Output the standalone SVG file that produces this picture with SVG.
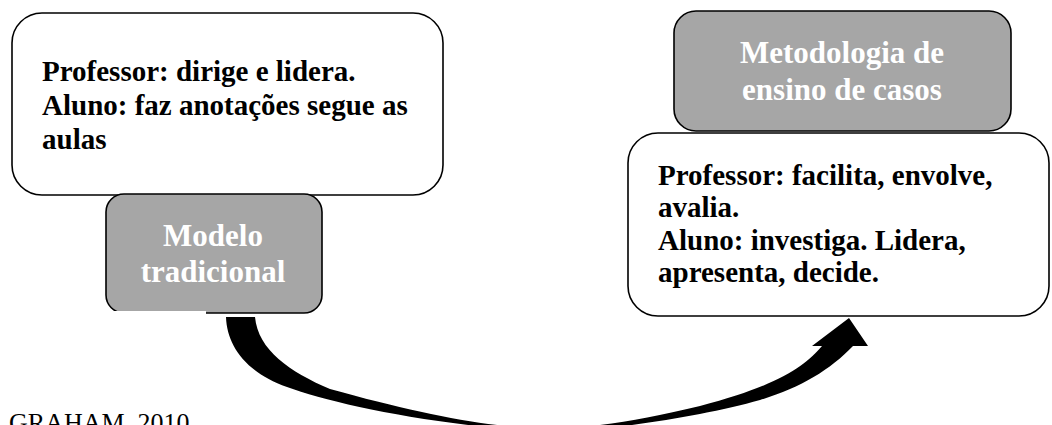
<svg xmlns="http://www.w3.org/2000/svg" width="1052" height="425" viewBox="0 0 1052 425">
<style>
.wbox{fill:#ffffff;stroke:#000000;stroke-width:1.6}
.gbox{fill:#a6a6a6;stroke:#000000;stroke-width:1.6}
.bt{font-family:"Liberation Serif","Times New Roman",serif;font-weight:bold;font-size:29px;fill:#000000}
.gt{font-family:"Liberation Serif","Times New Roman",serif;font-weight:bold;font-size:31px;fill:#ffffff;text-anchor:middle}
.src{font-family:"Liberation Serif","Times New Roman",serif;font-size:26px;fill:#000000}
</style>
<rect width="1052" height="425" fill="#ffffff"/>
<g id="node-professor-tradicional">
<rect class="wbox" x="12" y="13" width="431" height="182" rx="30"/>
<text class="bt" x="42" y="81">Professor: dirige e lidera.</text>
<text class="bt" x="42" y="115">Aluno: faz anotações segue as</text>
<text class="bt" x="42" y="149">aulas</text>
</g>
<g id="node-modelo-tradicional">
<rect class="gbox" x="106" y="194" width="216" height="119" rx="18"/>
<rect x="100" y="311" width="106" height="7" fill="#ffffff"/>
<text class="gt" x="213" y="246">Modelo</text>
<text class="gt" x="213" y="282">tradicional</text>
</g>
<g id="node-metodologia">
<rect class="gbox" x="674" y="11" width="337" height="120" rx="22"/>
<text class="gt" x="842" y="63">Metodologia de</text>
<text class="gt" x="842" y="100">ensino de casos</text>
</g>
<g id="node-professor-casos">
<rect class="wbox" x="628" y="133" width="421" height="183" rx="30"/>
<text class="bt" x="658" y="185">Professor: facilita, envolve,</text>
<text class="bt" x="658" y="217">avalia.</text>
<text class="bt" x="658" y="250">Aluno: investiga. Lidera,</text>
<text class="bt" x="658" y="282">apresenta, decide.</text>
</g>
<g id="connectors">
<path fill="#000000" d="M226,317 C227,345 245,372 287,387 C330,403 430,425 545,432 C600,432 700,417 760,400 C800,388 830,370 853,346 L868,346 L849,318 L812,346 L822,346 C805,366 780,385 700,406 C640,420 600,428 545,428 C490,428 420,414 330,389 C290,372 258,350 255,317 Z"/>
</g>
<text class="src" x="9" y="431">GRAHAM, 2010</text>
</svg>
